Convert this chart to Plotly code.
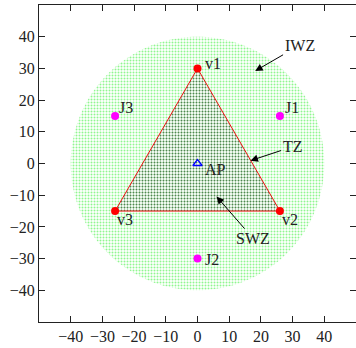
import numpy as np
import plotly.graph_objects as go

# ---- data ----
vertex_names = ["v1", "v2", "v3"]
vertex_x = [0, 26, -26]
vertex_y = [30, -15, -15]

jammer_names = ["J1", "J2", "J3"]
jammer_x = [26, 0, -26]
jammer_y = [15, -30, 15]

ap_x = [0]
ap_y = [0]

iwz_radius = 40  # interference-free zone radius

zone_labels = ["IWZ", "TZ", "SWZ"]
zone_text_x = [32.2, 30.0, 17.6]
zone_text_y = [37.3, 5.3, -23.7]
zone_arrow_x = [18.2, 16.7, 6.0]
zone_arrow_y = [29.2, 0.9, -10.4]

tick_vals = [-40, -30, -20, -10, 0, 10, 20, 30, 40]

FONT = "Liberation Serif"

fig = go.Figure()

# IWZ circle (dotted green)
th = np.linspace(0, 2 * np.pi, 181)
fig.add_trace(go.Scatter(
    x=iwz_radius * np.cos(th), y=iwz_radius * np.sin(th),
    mode="none", fill="toself", fillcolor="rgba(0,0,0,0)",
    fillpattern=dict(shape=".", fgcolor="#22ee22", bgcolor="rgba(0,0,0,0)",
                     size=3, solidity=0.35, fillmode="overlay"),
    hoverinfo="skip", showlegend=False))

# SWZ triangle (dotted black)
tri_x = vertex_x + [vertex_x[0]]
tri_y = vertex_y + [vertex_y[0]]
fig.add_trace(go.Scatter(
    x=tri_x, y=tri_y, mode="lines",
    line=dict(color="#ee1111", width=1),
    fill="toself", fillcolor="rgba(0,0,0,0)",
    fillpattern=dict(shape=".", fgcolor="#111111", bgcolor="rgba(0,0,0,0)",
                     size=3, solidity=0.3, fillmode="overlay"),
    hoverinfo="skip", showlegend=False))

# vertices
fig.add_trace(go.Scatter(x=vertex_x, y=vertex_y, mode="markers",
                         marker=dict(color="#ff0000", size=8), showlegend=False))
# jammers
fig.add_trace(go.Scatter(x=jammer_x, y=jammer_y, mode="markers",
                         marker=dict(color="#ff00ff", size=8), showlegend=False))
# AP
fig.add_trace(go.Scatter(x=ap_x, y=ap_y, mode="markers",
                         marker=dict(symbol="triangle-up-open", color="#0000ff", size=8,
                                     line=dict(width=1.3)),
                         showlegend=False))

annots = []
lab_font = dict(family=FONT, size=16, color="#222222")
vshift = {"v1": (5, 5), "v2": (0, -8), "v3": (0, -8)}
for n, x, y in zip(vertex_names, vertex_x, vertex_y):
    xs, ys = vshift[n]
    annots.append(dict(x=x, y=y, text=n, showarrow=False, xanchor="left", yanchor="middle",
                       xshift=xs, yshift=ys, font=lab_font))
jshift = {"J1": (3, 8), "J2": (5, -1), "J3": (2, 8)}
for n, x, y in zip(jammer_names, jammer_x, jammer_y):
    xs, ys = jshift[n]
    annots.append(dict(x=x, y=y, text=n, showarrow=False, xanchor="left", yanchor="middle",
                       xshift=xs, yshift=ys, font=lab_font))
annots.append(dict(x=ap_x[0], y=ap_y[0], text="AP", showarrow=False, xanchor="left",
                   yanchor="middle", xshift=5, yshift=-6, font=lab_font))

for t, tx, ty, hx, hy in zip(zone_labels, zone_text_x, zone_text_y, zone_arrow_x, zone_arrow_y):
    annots.append(dict(x=hx, y=hy, ax=tx, ay=ty, axref="x", ayref="y", xref="x", yref="y",
                       text=t, showarrow=True, arrowhead=2, arrowsize=1.5, arrowwidth=1,
                       arrowcolor="black", font=lab_font, standoff=0, startstandoff=0))

axis_common = dict(range=[-50, 50], tickvals=tick_vals, ticks="inside", ticklen=6,
                   tickcolor="#222222", tickwidth=1, showline=True, linecolor="#222222",
                   linewidth=1.2, mirror="ticks", showgrid=False, zeroline=False,
                   tickfont=dict(family=FONT, size=16, color="#222222"))

fig.update_layout(
    width=356, height=348,
    margin=dict(l=39, r=0, t=5, b=26),
    plot_bgcolor="white", paper_bgcolor="white",
    xaxis=axis_common, yaxis=axis_common,
    annotations=annots,
)

fig.write_html("out.html")
